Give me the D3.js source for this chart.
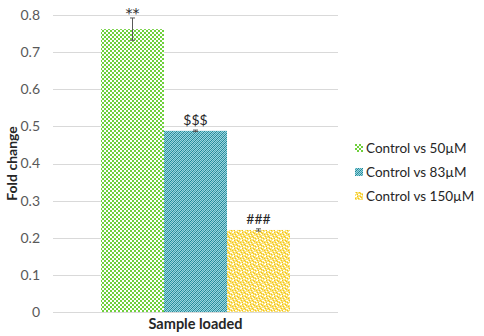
<!DOCTYPE html>
<html><head><meta charset="utf-8">
<script src="https://cdn.jsdelivr.net/npm/d3@7"></script>
<style>body{margin:0;background:#fff}svg{display:block}text{font-family:Lato,"Open Sans",sans-serif}</style>
</head><body>
<svg id="c" width="484" height="336"></svg>
<script>
const seriesNames = ["Control vs 50µM", "Control vs 83µM", "Control vs 150µM"];
const values = [0.762, 0.488, 0.221];
const errors = [0.030, 0.002, 0.003];
const annotations = ["**", "$$$", "###"];
const yTicks = [0, 0.1, 0.2, 0.3, 0.4, 0.5, 0.6, 0.7, 0.8];
const category = "Sample loaded";

(function(){
const svg = d3.select("#c");
const defs = svg.append("defs");
const pg = defs.append("pattern").attr("id","p0").attr("patternUnits","userSpaceOnUse").attr("width",4).attr("height",4);
pg.append("rect").attr("width",4).attr("height",4).attr("fill","#ffffff");
pg.append("rect").attr("x",0).attr("y",0).attr("width",2).attr("height",2).attr("fill","#6fd03c");
pg.append("rect").attr("x",2).attr("y",2).attr("width",2).attr("height",2).attr("fill","#6fd03c");
const pt = defs.append("pattern").attr("id","p1").attr("patternUnits","userSpaceOnUse").attr("width",4).attr("height",4);
pt.append("rect").attr("width",4).attr("height",4).attr("fill","#9fd3dc");
[[0,3],[1,2],[2,1],[3,0]].forEach(([x,y])=>pt.append("rect").attr("x",x).attr("y",y).attr("width",1).attr("height",1).attr("fill","#1e8797"));
[[0,1],[1,0],[2,3],[3,2]].forEach(([x,y])=>pt.append("rect").attr("x",x).attr("y",y).attr("width",1).attr("height",1).attr("fill","#3fa6b6"));
const py = defs.append("pattern").attr("id","p2").attr("patternUnits","userSpaceOnUse").attr("width",8).attr("height",8);
py.append("rect").attr("width",8).attr("height",8).attr("fill","#fbe27a");
[[0,0],[1,0],[4,1],[5,2],[2,3],[6,4],[7,4],[0,5],[3,6],[4,6],[1,7],[6,7]].forEach(([x,y])=>py.append("rect").attr("x",x).attr("y",y).attr("width",1).attr("height",1).attr("fill","#ffffff"));
[[2,0],[6,1],[0,2],[3,2],[4,4],[1,4],[5,5],[2,6],[7,6],[5,0]].forEach(([x,y])=>py.append("rect").attr("x",x).attr("y",y).attr("width",1).attr("height",1).attr("fill","#f2c414"));

const pl = 53, pr = 338, pt0 = 15, pb = 312;
const y = d3.scaleLinear().domain([0,0.8]).range([pb, pt0]);
const x0 = d3.scaleBand().domain([category]).range([pl, pr]).paddingInner(0).paddingOuter(0.254);
const x1 = d3.scaleBand().domain(seriesNames).range([0, x0.bandwidth()]).padding(0);

svg.append("g").selectAll("line").data(yTicks).join("line")
  .attr("x1", pl).attr("x2", pr).attr("y1", d=>Math.round(y(d))+0.5).attr("y2", d=>Math.round(y(d))+0.5)
  .attr("stroke","#d9d9d9").attr("stroke-width",1);

const yAxis = d3.axisLeft(y).tickValues(yTicks).tickFormat(d=>d===0?"0":d3.format(".1f")(d)).tickSize(0).tickPadding(0);
const gy = svg.append("g").attr("transform",`translate(${pl-13},0)`).call(yAxis);
gy.select(".domain").remove();
gy.selectAll("text").attr("fill","#595959").style("font-size","14px").style("font-family","Lato,sans-serif");

const bars = svg.append("g");
seriesNames.forEach((s,i)=>{
  const bx = x0(category) + x1(s);
  bars.append("rect").attr("x", bx).attr("y", y(values[i])).attr("width", x1.bandwidth()).attr("height", y(0)-y(values[i]))
    .attr("fill", `url(#p${i})`);
  const cx = bx + x1.bandwidth()/2;
  const eg = bars.append("g").attr("stroke","#595959").attr("stroke-width",1);
  eg.append("line").attr("x1",cx).attr("x2",cx).attr("y1",y(values[i]+errors[i])).attr("y2",y(values[i]-errors[i]));
  eg.append("line").attr("x1",cx-2.5).attr("x2",cx+2.5).attr("y1",y(values[i]+errors[i])).attr("y2",y(values[i]+errors[i]));
  eg.append("line").attr("x1",cx-2.5).attr("x2",cx+2.5).attr("y1",y(values[i]-errors[i])).attr("y2",y(values[i]-errors[i]));
  svg.append("text").attr("x",cx).attr("y",y(values[i]+errors[i])-5 + (i===0?5:0)).attr("text-anchor","middle")
    .attr("fill","#262626").style("font-size", i===0?"14px":"14px").style("font-family", i===0?"'DejaVu Sans',sans-serif":null).text(annotations[i]);
});

svg.append("text").attr("x", (pl+pr)/2).attr("y", 329).attr("text-anchor","middle")
  .style("font-size","14.5px").style("font-weight","bold").attr("fill","#262626").text(category);
svg.append("text").attr("transform",`translate(17,${(pt0+pb)/2}) rotate(-90)`).attr("text-anchor","middle")
  .style("font-size","14px").style("font-weight","bold").attr("fill","#262626").text("Fold change");

const lg = svg.append("g").attr("transform","translate(355,148)");
seriesNames.forEach((s,i)=>{
  const g = lg.append("g").attr("transform",`translate(0,${i*24})`);
  g.append("rect").attr("x",0).attr("y",-4).attr("width",8).attr("height",8).attr("fill",`url(#p${i})`);
  g.append("text").attr("x",11).attr("y",0).attr("dy","0.35em").style("font-size","13.5px").attr("fill","#262626").text(s);
});
})();
</script>
</body></html>
